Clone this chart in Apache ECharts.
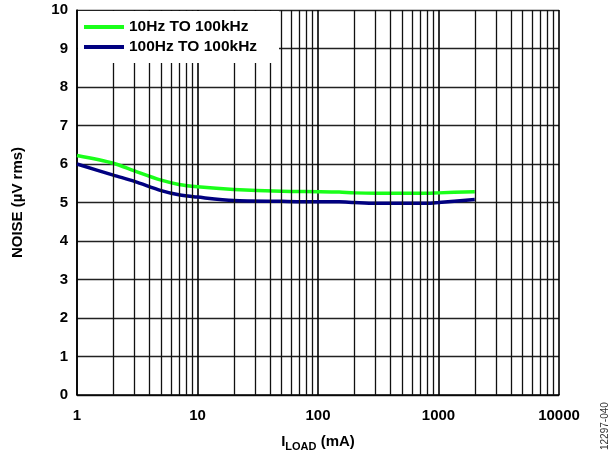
<!DOCTYPE html>
<html>
<head>
<meta charset="utf-8">
<script src="https://cdn.jsdelivr.net/npm/echarts@6/dist/echarts.min.js"></script>
<style>
  html, body { margin: 0; padding: 0; background: #fff; }
  #chart { width: 610px; height: 454px; }
</style>
</head>
<body>
<div id="chart"></div>
<script>
// load current (mA)
var loadCurrent = [1, 2, 3, 5, 7, 10, 20, 50, 100, 150, 200, 300, 500, 800, 1000, 2000];
// noise, uV rms
var noise10Hz = [6.22, 6.02, 5.82, 5.58, 5.47, 5.41, 5.34, 5.29, 5.28, 5.27, 5.25, 5.24, 5.24, 5.24, 5.25, 5.28];
var noise100Hz = [6.0, 5.71, 5.55, 5.31, 5.2, 5.14, 5.05, 5.03, 5.02, 5.02, 5.0, 4.98, 4.98, 4.98, 5.0, 5.08];
var seriesNames = ['10Hz TO 100kHz', '100Hz TO 100kHz'];

// minor log grid lines 2..9 of each decade
var minorGrid = [];
for (var d = 1; d < 10000; d *= 10) {
	for (var k = 2; k <= 9; k++) {
		minorGrid.push({ xAxis: k * d });
	}
}

function pair(xs, ys) {
	var res = [];
	for (var i = 0; i < xs.length; i++) {
		res.push([xs[i], ys[i]]);
	}
	return res;
}

var chart = echarts.init(document.getElementById('chart'));

var fontFam = 'Liberation Sans, Arial';
var labelFont = { color: '#000', fontFamily: fontFam, fontWeight: 'bold', fontSize: 15 };

chart.setOption({
	animation: false,
	backgroundColor: '#fff',
	grid: { left: 77, right: 51, top: 10, bottom: 59, outerBoundsMode: 'none', containLabel: false },
	legend: {
		data: seriesNames,
		orient: 'vertical',
		left: 84,
		top: 18,
		padding: 0,
		itemGap: 2,
		itemWidth: 40,
		itemHeight: 4,
		icon: 'rect',
		z: 21,
		textStyle: { color: '#000', fontFamily: fontFam, fontWeight: 'bold', fontSize: 15.5, lineHeight: 18 }
	},
	graphic: [
		{
			type: 'rect',
			shape: { x: 78, y: 11, width: 201, height: 52 },
			style: { fill: '#fff' },
			z: 20
		},
		{
			type: 'text',
			x: 605,
			y: 450,
			rotation: Math.PI / 2,
			style: {
				text: '12297-040',
				fill: '#333',
				font: '10px ' + fontFam,
				textAlign: 'left',
				textVerticalAlign: 'middle'
			}
		}
	],
	xAxis: {
		type: 'log',
		logBase: 10,
		min: 1,
		max: 10000,
		name: '{a|I}{b|LOAD}{a| (mA)}',
		nameLocation: 'middle',
		nameGap: 37,
		nameTextStyle: {
			rich: {
				a: { color: '#000', fontFamily: fontFam, fontWeight: 'bold', fontSize: 15 },
				b: { color: '#000', fontFamily: fontFam, fontWeight: 'bold', fontSize: 11, padding: [9, 0, 0, 0] }
			}
		},
		axisLine: { show: true, lineStyle: { color: '#000', width: 1.5 } },
		axisTick: { show: false },
		axisLabel: Object.assign({ margin: 13, formatter: function (v) { return String(v); } }, labelFont),
		splitLine: { show: true, lineStyle: { color: '#000', width: 1.6 } }
	},
	yAxis: {
		type: 'value',
		min: 0,
		max: 10,
		interval: 1,
		name: 'NOISE (µV rms)',
		nameLocation: 'middle',
		nameGap: 52,
		nameTextStyle: labelFont,
		axisLine: { show: true, lineStyle: { color: '#000', width: 1.5 } },
		axisTick: { show: false },
		axisLabel: Object.assign({ margin: 9 }, labelFont),
		splitLine: { show: true, lineStyle: { color: '#222', width: 1.3 } }
	},
	series: [
		{
			name: 'grid',
			type: 'line',
			data: [],
			silent: true,
			markLine: {
				silent: true,
				symbol: 'none',
				label: { show: false },
				lineStyle: { color: '#111', width: 1.3, type: 'solid' },
				emphasis: { disabled: true },
				data: minorGrid
			}
		},
		{
			name: seriesNames[0],
			type: 'line',
			data: pair(loadCurrent, noise10Hz),
			showSymbol: false,
			smooth: 0.3,
			itemStyle: { color: '#1aff1a' },
			lineStyle: { color: '#1aff1a', width: 3.5 }
		},
		{
			name: seriesNames[1],
			type: 'line',
			data: pair(loadCurrent, noise100Hz),
			showSymbol: false,
			smooth: 0.3,
			itemStyle: { color: '#000080' },
			lineStyle: { color: '#000080', width: 3.5 }
		}
	]
});
</script>
</body>
</html>
